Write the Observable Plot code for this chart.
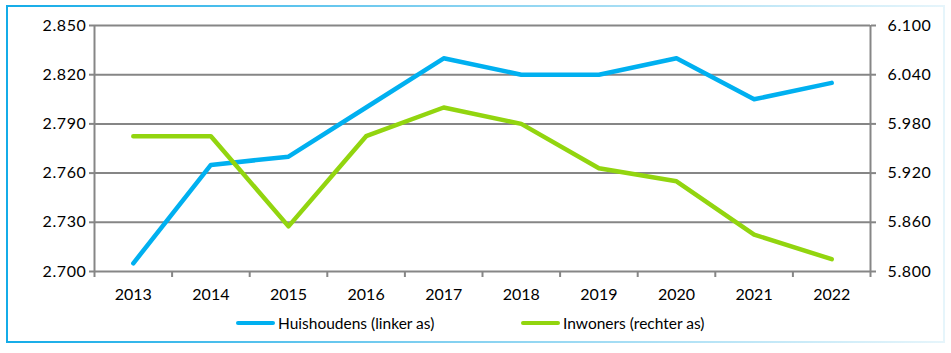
<!DOCTYPE html>
<html>
<head>
<meta charset="utf-8">
<script src="https://cdn.jsdelivr.net/npm/d3@7"></script>
<script src="https://cdn.jsdelivr.net/npm/@observablehq/plot@0.6"></script>
<style>
  html, body { margin: 0; padding: 0; background: #fff; }
  #wrap { position: relative; width: 951px; height: 353px; overflow: hidden; font-family: Lato, "Liberation Sans", sans-serif; }
  #frame { position: absolute; left: 6px; top: 5px; width: 935px; height: 334px; border: 2px solid #1aaee8;
           border-image: linear-gradient(to right, #14ace8, #7fcff0 45%, #e6f5fb) 1; box-sizing: content-box; }
  #chart { position: absolute; left: 0; top: 0; }
  #chart g[aria-label="y-axis tick label"] { letter-spacing: 0.6px; }
  #legend { position: absolute; top: 313px; left: 0; width: 951px; height: 20px; font-size: 15.5px; color: #000; }
  .item { position: absolute; top: 0; display: flex; align-items: center; height: 20px; }
  .sw { width: 39px; height: 4.5px; border-radius: 3px; margin-right: 3px; }
</style>
</head>
<body>
<div id="wrap">
  <div id="frame"></div>
  <div id="chart"></div>
  <div id="legend"></div>
</div>
<script>
const years = [2013, 2014, 2015, 2016, 2017, 2018, 2019, 2020, 2021, 2022];
const huishoudens = [2705, 2765, 2770, 2800, 2830, 2820, 2820, 2830, 2805, 2815];
const inwoners = [5965, 5965, 5855, 5965, 6000, 5980, 5926, 5910, 5845, 5815];
const leftTicks = [2700, 2730, 2760, 2790, 2820, 2850];
const rightTicks = [5800, 5860, 5920, 5980, 6040, 6100];
const seriesNames = ["Huishoudens (linker as)", "Inwoners (rechter as)"];
const colors = ["#00b0f0", "#92d50f"];

const nl = d3.formatLocale({decimal: ",", thousands: ".", grouping: [3], currency: ["€", ""]});
const fmt = nl.format(",d");

const leftDomain = [leftTicks[0], leftTicks[leftTicks.length - 1]];
const rightDomain = [rightTicks[0], rightTicks[rightTicks.length - 1]];
const toLeft = r => leftDomain[0] + (r - rightDomain[0]) * (leftDomain[1] - leftDomain[0]) / (rightDomain[1] - rightDomain[0]);
const toRight = l => rightDomain[0] + (l - leftDomain[0]) * (rightDomain[1] - rightDomain[0]) / (leftDomain[1] - leftDomain[0]);

const hh = years.map((y, i) => ({year: y, value: huishoudens[i]}));
const inw = years.map((y, i) => ({year: y, value: inwoners[i]}));
const xDomain = [d3.min(years) - 0.5, d3.max(years) + 0.5];
const bounds = d3.range(xDomain[0], xDomain[1] + 0.01, 1);
const grey = "#868686";

const chart = Plot.plot({
  width: 951,
  height: 310,
  marginLeft: 94,
  marginRight: 81,
  marginTop: 25,
  marginBottom: 39,
  style: {fontFamily: "Lato, 'Liberation Sans', sans-serif", fontSize: "16px", color: "#000", background: "transparent"},
  x: {domain: xDomain},
  y: {domain: leftDomain},
  marks: [
    Plot.ruleY(leftTicks, {stroke: grey, strokeWidth: 2}),
    Plot.ruleX(xDomain, {stroke: grey, strokeWidth: 2}),
    Plot.axisY({ticks: leftTicks, tickFormat: fmt, tickSize: 5, tickPadding: 3, stroke: grey, strokeWidth: 2, fill: "#000", label: null}),
    Plot.axisY({anchor: "right", ticks: rightTicks.map(toLeft), tickFormat: d => fmt(Math.round(toRight(d))), tickSize: 5, tickPadding: 12, stroke: grey, strokeWidth: 2, fill: "#000", textAnchor: "start", label: null}),
    Plot.axisX({ticks: bounds, tickFormat: () => "", tickSize: 6, stroke: grey, strokeWidth: 2, label: null}),
    Plot.axisX({ticks: years, tickFormat: d => String(d), tickSize: 0, tickPadding: 17, fill: "#000", label: null}),
    Plot.line(hh, {x: "year", y: "value", stroke: colors[0], strokeWidth: 4.5, strokeLinecap: "round", strokeLinejoin: "round"}),
    Plot.line(inw, {x: "year", y: d => toLeft(d.value), stroke: colors[1], strokeWidth: 4.5, strokeLinecap: "round", strokeLinejoin: "round"})
  ]
});
document.getElementById("chart").appendChild(chart);

const legend = document.getElementById("legend");
const lefts = [236, 521];
seriesNames.forEach((name, i) => {
  const it = document.createElement("div");
  it.className = "item";
  it.style.left = lefts[i] + "px";
  const sw = document.createElement("span");
  sw.className = "sw";
  sw.style.background = colors[i];
  const tx = document.createElement("span");
  tx.textContent = name;
  it.appendChild(sw);
  it.appendChild(tx);
  legend.appendChild(it);
});
</script>
</body>
</html>
